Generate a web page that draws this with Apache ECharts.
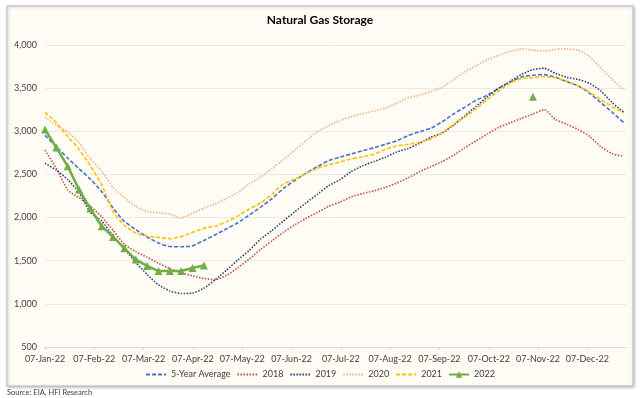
<!DOCTYPE html>
<html lang="en">
<head>
    <meta charset="utf-8">
    <script src="https://cdn.jsdelivr.net/npm/echarts@6/dist/echarts.min.js"></script>
    <style>
        html, body { margin: 0; padding: 0; background: #fff; }
        #chart { width: 640px; height: 398px; }
    </style>
</head>
<body>
    <div id="chart"></div>
    <script>
        // month labels on the x axis (weekly data, 07-Jan-22 = week 0)
        const monthLabels = ['07-Jan-22', '07-Feb-22', '07-Mar-22', '07-Apr-22', '07-May-22', '07-Jun-22',
            '07-Jul-22', '07-Aug-22', '07-Sep-22', '07-Oct-22', '07-Nov-22', '07-Dec-22']
        const seriesNames = ['5-Year Average', '2018', '2019', '2020', '2021', '2022']

        // weekly storage, Bcf
        const avg5 = [2953, 2820, 2690, 2565, 2445, 2300, 2110, 1955, 1860, 1775, 1705, 1665, 1662, 1672, 1735, 1800,
            1870, 1940, 2030, 2120, 2220, 2336, 2430, 2515, 2590, 2660, 2700, 2738, 2775, 2810, 2850, 2890,
            2950, 2995, 3035, 3110, 3200, 3280, 3360, 3420, 3500, 3572, 3630, 3650, 3657, 3625, 3575, 3525,
            3440, 3330, 3220, 3100]
        const y2018 = [2780, 2570, 2320, 2230, 2130, 2010, 1850, 1690, 1605, 1540, 1470, 1410, 1360, 1325, 1295, 1280,
            1330, 1420, 1520, 1630, 1730, 1830, 1915, 1990, 2060, 2130, 2180, 2240, 2280, 2310, 2350, 2400,
            2460, 2530, 2590, 2650, 2720, 2810, 2890, 2970, 3045, 3100, 3150, 3200, 3250, 3135, 3080, 3020,
            2940, 2820, 2740, 2710]
        const y2019 = [2630, 2550, 2440, 2290, 2060, 1960, 1790, 1640, 1480, 1340, 1220, 1150, 1120, 1125, 1180, 1280,
            1390, 1510, 1620, 1750, 1850, 1960, 2065, 2170, 2270, 2370, 2440, 2535, 2600, 2650, 2700, 2760,
            2800, 2860, 2930, 2980, 3070, 3180, 3290, 3400, 3500, 3580, 3660, 3715, 3730, 3670, 3625, 3600,
            3555, 3465, 3330, 3220]
        const y2020 = [3160, 3070, 2990, 2870, 2680, 2540, 2350, 2230, 2130, 2070, 2055, 2040, 1995, 2050, 2110, 2160,
            2220, 2290, 2390, 2470, 2570, 2670, 2780, 2890, 2995, 3065, 3125, 3170, 3205, 3235, 3270, 3325,
            3390, 3417, 3460, 3510, 3600, 3690, 3760, 3830, 3880, 3925, 3955, 3940, 3930, 3950, 3955, 3940,
            3865, 3730, 3600, 3480]
        const y2021 = [3220, 3100, 2940, 2790, 2600, 2380, 2070, 1910, 1820, 1785, 1770, 1756, 1780, 1830, 1875, 1900,
            1950, 2020, 2100, 2170, 2270, 2390, 2445, 2510, 2570, 2610, 2645, 2680, 2705, 2735, 2790, 2830,
            2850, 2870, 2910, 2985, 3080, 3165, 3260, 3370, 3470, 3560, 3610, 3622, 3635, 3620, 3580, 3525,
            3450, 3365, 3285, 3215]
        const y2022 = [3021, 2811, 2594, 2324, 2104, 1900, 1775, 1644, 1513, 1440, 1380, 1382, 1380, 1415, 1445,
            null, null, null, null, null, null, null, null, null, null, null, null, null, null, null, null, null,
            null, null, null, null, null, null, null, null, null, null, null, 3400, null, null, null, null,
            null, null, null, null]

        const monthStep = 365 / 12 / 7
        const font = 'Lato, "Open Sans", sans-serif'

        function pairs(arr) {
            return arr.map((v, i) => [i, v])
        }

        const colors = ['#4472C4', '#C0504D', '#2F3F70', '#F4B183', '#FFC000', '#70AD47']
        const lineTypes = [[4, 2], [1.5, 1.5], [1.5, 1.5], [1.5, 1.5], [4, 2], 'solid']
        const allData = [avg5, y2018, y2019, y2020, y2021, y2022]

        let series = allData.map((d, i) => {
            let s = {
                name: seriesNames[i],
                type: 'line',
                data: pairs(d),
                symbol: 'none',
                smooth: 0.2,
                connectNulls: false,
                color: colors[i],
                lineStyle: { width: 1.6, type: lineTypes[i], color: colors[i] },
                z: i
            }
            if (i == 5) {
                s.symbol = 'triangle'
                s.symbolSize = 8
                s.showSymbol = true
                s.smooth = false
                s.lineStyle.width = 2.5
                s.itemStyle = { color: colors[i] }
                s.z = 10
            }
            return s
        })

        // hide the legend marker for series drawn without symbols
        let legendData = seriesNames.map((n, i) => i == 5 ? { name: n } : { name: n, itemStyle: { opacity: 0 } })

        let chart = echarts.init(document.getElementById('chart'))
        chart.setOption({
            animation: false,
            backgroundColor: '#ffffff',
            graphic: [
                {
                    type: 'rect',
                    shape: { x: 7, y: 6, width: 626, height: 380 },
                    style: { fill: '#FEFCF4', stroke: '#BDBDBD', lineWidth: 1, shadowBlur: 3, shadowColor: 'rgba(0,0,0,0.25)', shadowOffsetX: 1, shadowOffsetY: 1 },
                    z: -10
                },
                {
                    type: 'text',
                    left: 7, top: 389,
                    style: { text: 'Source: EIA, HFI Research', font: '7.5px ' + font, fill: '#404040' }
                }
            ],
            title: {
                text: 'Natural Gas Storage',
                left: 'center',
                top: 9,
                textStyle: { fontFamily: font, fontSize: 12, fontWeight: 'bold', color: '#000' }
            },
            legend: {
                data: legendData,
                bottom: 14,
                left: 'center',
                itemWidth: 20,
                itemHeight: 8,
                itemGap: 6,
                textStyle: { fontFamily: font, fontSize: 9, color: '#404040' }
            },
            grid: { left: 45, right: 14, top: 45, bottom: 51 },
            xAxis: {
                type: 'value',
                min: 0,
                max: 51.2,
                interval: monthStep,
                axisLine: { show: true, lineStyle: { color: '#D9D9D9' } },
                axisTick: { show: true, length: 3, lineStyle: { color: '#D9D9D9' } },
                splitLine: { show: false },
                axisLabel: {
                    showMaxLabel: false,
                    fontFamily: font,
                    fontSize: 9,
                    color: '#404040',
                    margin: 8,
                    formatter: function (v) {
                        let k = Math.round(v / monthStep)
                        if (Math.abs(v - k * monthStep) > 0.01) return ''
                        return monthLabels[k] || ''
                    }
                }
            },
            yAxis: {
                type: 'value',
                min: 500,
                max: 4000,
                interval: 500,
                axisLine: { show: false },
                axisTick: { show: false },
                splitLine: { lineStyle: { color: '#EAEAE4', width: 1 } },
                axisLabel: {
                    fontFamily: font,
                    fontSize: 9,
                    color: '#404040',
                    margin: 8,
                    formatter: function (v) { return v.toLocaleString('en-US') }
                }
            },
            series: series
        })
    </script>
</body>
</html>
